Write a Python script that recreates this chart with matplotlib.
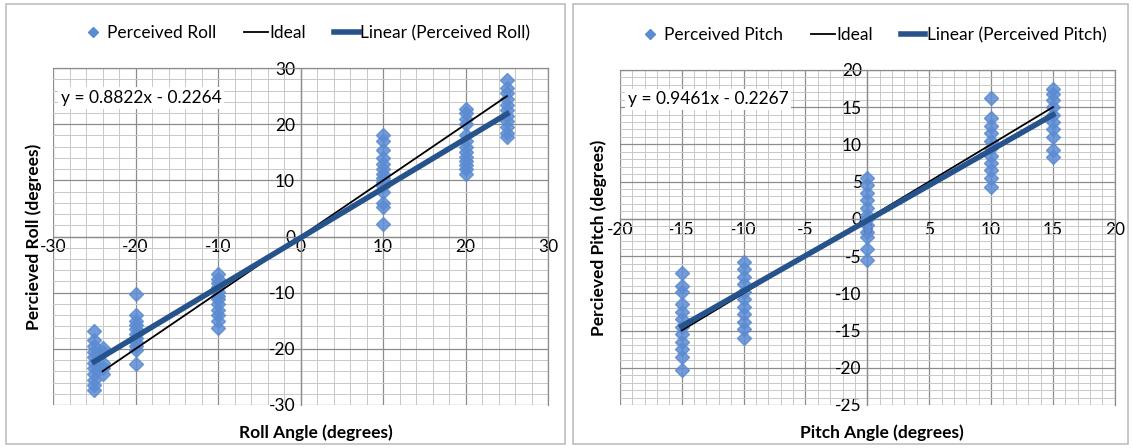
import matplotlib.pyplot as plt
from matplotlib.lines import Line2D
from matplotlib.patches import Rectangle

plt.rcParams["font.family"] = ["Lato", "DejaVu Sans"]
plt.rcParams["axes.unicode_minus"] = False

# Roll data (perceived roll per commanded roll angle)
roll_angles = [-25, -24, -20, -10, 10, 20, 25]
roll_values = [
    [-16.8, -18.5, -19.5, -20.5, -21.5, -22.5, -23.5, -24.5, -25.5, -26.5, -27.3],
    [-19.8, -20.5, -22.5, -23.5, -24.5],
    [-10.2, -14, -15, -15.8, -16.5, -17.3, -18, -18.8, -19.5, -20.2, -22.7],
    [-6.6, -7.5, -8.3, -9, -9.8, -10.5, -11.2, -12, -13, -14, -15, -16.2],
    [18, 17, 15.5, 14, 13, 12, 11.2, 10.5, 9.8, 9, 8, 6, 5.2, 2.3],
    [22.7, 22, 21, 20, 18, 17, 16, 15, 14.2, 13.5, 12.7, 12, 11.2],
    [27.8, 26.5, 25.5, 24.5, 23.5, 22.5, 21.5, 20.5, 19.5, 18.5, 17.8],
]
roll_slope, roll_icept = 0.8822, -0.2264
roll_fit_x = [-25, 25]
roll_ideal_x = [-24, 25]

# Pitch data
pitch_angles = [-15, -10, 0, 10, 15]
pitch_values = [
    [-7.3, -9, -9.8, -11.5, -12.5, -13.5, -14.5, -15.5, -16.5, -17.5, -18.5, -20.3],
    [-5.8, -6.8, -7.8, -8.8, -9.8, -10.8, -11.8, -12.8, -13.8, -14.8, -16],
    [5.5, 4.5, 3.5, 2.5, 1.5, 0.5, 0, -0.8, -1.8, -2.5, -4, -5.5],
    [16.2, 13.5, 12.5, 11.5, 10.5, 9.5, 8.5, 7.5, 6.5, 5.5, 4.3],
    [17.5, 16.8, 16, 15, 14, 13, 12, 11, 9.2, 8.3],
]
pitch_slope, pitch_icept = 0.9461, -0.2267
pitch_fit_x = [-15, 15]
pitch_ideal_x = [-15, 15]

MARKER_C = "#5B8BD2"
TREND_C = "#27538D"
FS = 12.5


def draw_panel(ax, angles, values, slope, icept, fit_x, ideal_x, xlim, ylim,
               xmajor, ymajor, minor, name, xlabel, ylabel):
    xs, ys = [], []
    for a, vals in zip(angles, values):
        xs += [a] * len(vals)
        ys += vals
    ax.plot(xs, ys, "D", color=MARKER_C, ms=7, mec=MARKER_C, alpha=0.85,
            zorder=3, label="Perceived " + name)
    ax.plot(ideal_x, ideal_x, color="black", lw=1.3, zorder=4, label="Ideal")
    ax.plot(fit_x, [slope * x + icept for x in fit_x], color=TREND_C, lw=4,
            zorder=5, label="Linear (Perceived %s)" % name)

    ax.set_xlim(*xlim)
    ax.set_ylim(*ylim)
    ax.set_xticks(range(xlim[0], xlim[1] + 1, xmajor))
    ax.set_yticks(range(ylim[0], ylim[1] + 1, ymajor))
    ax.set_xticks([v for v in range(xlim[0], xlim[1] + 1, minor)], minor=True)
    ax.set_yticks([v for v in range(ylim[0], ylim[1] + 1, minor)], minor=True)
    ax.grid(True, which="major", color="#8C8C8C", lw=0.9, zorder=0)
    ax.grid(True, which="minor", color="#C8C8C8", lw=0.7, zorder=0)
    ax.set_axisbelow(True)

    ax.spines["left"].set_position(("data", 0))
    ax.spines["bottom"].set_position(("data", 0))
    for s in ax.spines.values():
        s.set_color("#8C8C8C")
        s.set_linewidth(0.9)
    ax.tick_params(which="both", length=0, labelsize=FS, pad=2)
    ax.tick_params(axis="y", pad=4)

    ax.set_xlabel(xlabel, fontsize=FS, fontweight="bold")
    ax.xaxis.set_label_coords(0.53, -0.058)
    ax.set_ylabel(ylabel, fontsize=FS, fontweight="bold")

    ax.text(0.016, 0.912, "y = %.4fx - %.4f" % (slope, -icept),
            transform=ax.transAxes, fontsize=FS, va="center", ha="left",
            bbox=dict(facecolor="white", edgecolor="none", pad=2), zorder=6)

    handles = [
        Line2D([], [], marker="D", ls="none", color=MARKER_C, ms=5),
        Line2D([], [], color="black", lw=1.3),
        Line2D([], [], color=TREND_C, lw=4),
    ]
    labels = ["Perceived " + name, "Ideal", "Linear (Perceived %s)" % name]
    ax.legend(handles, labels, loc="center", bbox_to_anchor=(0.51, 1.104),
              ncol=3, frameon=False, fontsize=FS, handlelength=1.4,
              handletextpad=0.1, columnspacing=1.6)


fig = plt.figure(figsize=(11.33, 4.48), dpi=100)
fig.patch.set_facecolor("white")

ax1 = fig.add_axes([0.0468, 0.096, 0.437, 0.752])
ax2 = fig.add_axes([0.547, 0.096, 0.437, 0.748])

draw_panel(ax1, roll_angles, roll_values, roll_slope, roll_icept, roll_fit_x,
           roll_ideal_x, (-30, 30), (-30, 30), 10, 10, 2, "Roll",
           "Roll Angle (degrees)", "Percieved Roll (degrees)")
draw_panel(ax2, pitch_angles, pitch_values, pitch_slope, pitch_icept,
           pitch_fit_x, pitch_ideal_x, (-20, 20), (-25, 20), 5, 5, 1, "Pitch",
           "Pitch Angle (degrees)", "Percieved Pitch (degrees)")

ax1.yaxis.set_label_coords(-0.022, 0.5)
ax2.yaxis.set_label_coords(-0.026, 0.5)

# chart frames
for x0, w in [(0.005, 0.494), (0.506, 0.49)]:
    fig.patches.append(Rectangle((x0, 0.008), w, 0.982, transform=fig.transFigure,
                                 fill=False, edgecolor="#BFBFBF", lw=1.2))

fig.savefig("out.png", dpi=100)
